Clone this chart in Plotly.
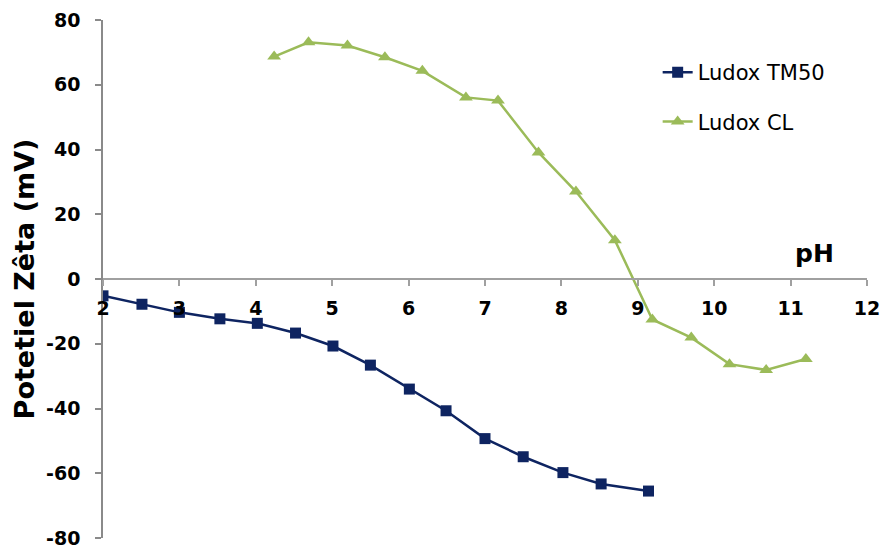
import plotly.graph_objects as go

# Ludox TM50
tm50_ph = [2.0, 2.51, 3.0, 3.53, 4.02, 4.52, 5.01, 5.50, 6.01, 6.49, 7.0, 7.5, 8.02, 8.52, 9.14]
tm50_zeta = [-5.2, -7.8, -10.3, -12.3, -13.7, -16.7, -20.7, -26.6, -34.0, -40.7, -49.3, -54.9, -59.8, -63.3, -65.5]

# Ludox CL
cl_ph = [4.24, 4.69, 5.20, 5.69, 6.18, 6.75, 7.17, 7.70, 8.19, 8.70, 9.19, 9.70, 10.20, 10.68, 11.20]
cl_zeta = [68.7, 73.1, 72.1, 68.5, 64.3, 56.1, 55.1, 39.1, 27.0, 12.0, -12.5, -18.1, -26.3, -28.1, -24.7]

x_ticks = [2, 3, 4, 5, 6, 7, 8, 9, 10, 11, 12]
y_ticks = [-80, -60, -40, -20, 0, 20, 40, 60, 80]

FONT = "DejaVu Sans, sans-serif"
NAVY = "#0E2461"
GREEN = "#9BBB59"

fig = go.Figure()
fig.add_trace(go.Scatter(
    x=tm50_ph, y=tm50_zeta, name="Ludox TM50", mode="lines+markers",
    line=dict(color=NAVY, width=2.5),
    marker=dict(symbol="square", size=11, color=NAVY),
    legendgroup="a",
))
fig.add_trace(go.Scatter(
    x=cl_ph, y=cl_zeta, name="Ludox CL", mode="lines+markers",
    line=dict(color=GREEN, width=2.5),
    marker=dict(symbol="triangle-up", size=12, color=GREEN),
    legendgroup="b",
))

fig.update_layout(
    width=884, height=548,
    margin=dict(l=103, r=17, t=20, b=10),
    paper_bgcolor="white", plot_bgcolor="white",
    font=dict(family=FONT, color="black"),
    showlegend=True,
    legend=dict(
        x=0.726, y=0.938, xanchor="left", yanchor="top",
        font=dict(size=21, family=FONT, color="black"),
        tracegroupgap=19, itemwidth=30,
        bgcolor="rgba(0,0,0,0)",
    ),
    xaxis=dict(
        range=[2, 12], tickvals=x_ticks, ticktext=[str(v) for v in x_ticks],
        anchor="free", position=0.5, automargin=False,
        showline=True, linecolor="#A0A0A0", linewidth=1.5,
        ticks="outside", ticklen=6, tickcolor="#A0A0A0", tickwidth=1.5,
        ticklabelstandoff=6, ticklabeloverflow="allow",
        showgrid=False, zeroline=False,
        tickfont=dict(size=19, family=FONT, color="black", weight="bold"),
    ),
    yaxis=dict(
        range=[-80, 80], tickvals=y_ticks,
        ticktext=[str(v).replace("\u2212", "-") for v in y_ticks],
        automargin=False,
        showline=True, linecolor="#8A8A8A", linewidth=1.5,
        ticks="outside", ticklen=6, tickcolor="#8A8A8A", tickwidth=1.5,
        ticklabelstandoff=11, ticklabeloverflow="allow",
        showgrid=False, zeroline=False,
        tickfont=dict(size=19, family=FONT, color="black", weight="bold"),
        title=dict(text="Potetiel Zêta (mV)", standoff=4,
                   font=dict(size=27, family=FONT, color="black", weight="bold")),
    ),
    annotations=[dict(
        text="pH", x=11.03, y=8, xref="x", yref="y",
        xanchor="left", yanchor="middle", showarrow=False,
        font=dict(size=25, family=FONT, color="black", weight="bold"),
    )],
)

fig.write_html("out.html", config={"displayModeBar": False},
               post_script="document.body.style.margin='0';")
